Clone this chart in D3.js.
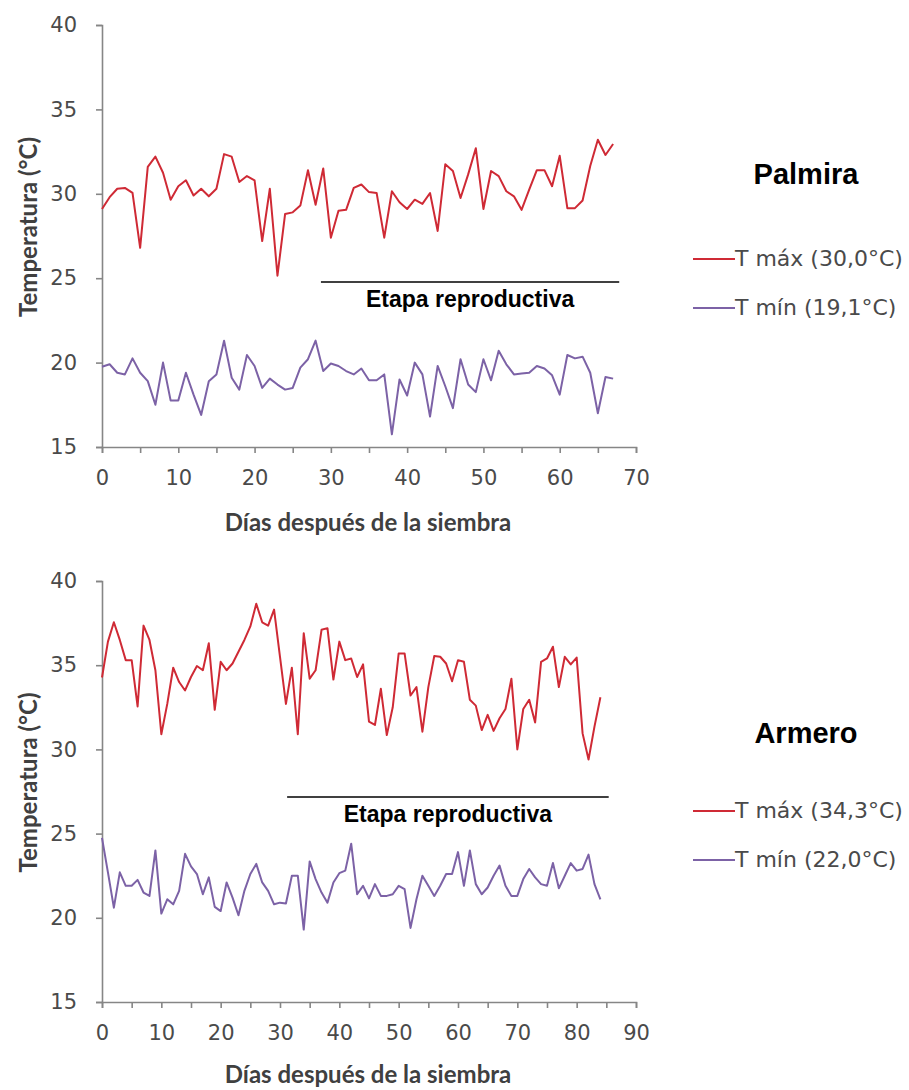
<!DOCTYPE html>
<html><head><meta charset="utf-8">
<script src="https://cdn.jsdelivr.net/npm/d3@7"></script>
<style>
html,body{margin:0;padding:0;background:#fff;}
svg{display:block;}
</style></head>
<body>
<svg id="chart" width="909" height="1090"></svg>
<script>
// ---- data ----
const palmiraTmax = [29.1, 29.8, 30.3, 30.35, 30.05, 26.8, 31.6, 32.2, 31.25, 29.65,
  30.45, 30.8, 29.9, 30.3, 29.85, 30.3, 32.35, 32.2, 30.7, 31.05,
  30.8, 27.2, 30.3, 25.15, 28.8, 28.9, 29.3, 31.4, 29.35, 31.5,
  27.4, 29.0, 29.05, 30.35, 30.55, 30.1, 30.05, 27.4, 30.15, 29.5,
  29.1, 29.65, 29.4, 30.05, 27.8, 31.75, 31.35, 29.75, 31.15, 32.7,
  29.1, 31.35, 31.05, 30.15, 29.85, 29.05, 30.25, 31.4, 31.4, 30.45,
  32.25, 29.15, 29.15, 29.6, 31.65, 33.2, 32.3, 32.95];
const palmiraTmin = [19.75, 19.9, 19.4, 19.3, 20.25, 19.4, 18.9, 17.5, 20.0, 17.75,
  17.75, 19.4, 18.1, 16.9, 18.9, 19.3, 21.3, 19.1, 18.4, 20.45,
  19.8, 18.5, 19.05, 18.7, 18.4, 18.5, 19.7, 20.2, 21.3, 19.5,
  19.95, 19.8, 19.5, 19.3, 19.65, 18.95, 18.95, 19.3, 15.75, 19.0,
  18.05, 20.0, 19.3, 16.8, 19.8, 18.6, 17.3, 20.2, 18.7, 18.25,
  20.2, 18.95, 20.7, 19.9, 19.3, 19.35, 19.4, 19.8, 19.65, 19.25,
  18.1, 20.45, 20.25, 20.35, 19.4, 17.0, 19.15, 19.05];
const armeroTmax = [34.27, 36.4, 37.55, 36.5, 35.3, 35.3, 32.55, 37.35, 36.5, 34.7,
  30.9, 32.7, 34.85, 34.0, 33.5, 34.3, 34.95, 34.7, 36.3, 32.35,
  35.2, 34.7, 35.1, 35.8, 36.5, 37.3, 38.65, 37.55, 37.35, 38.3,
  35.5, 32.7, 34.85, 30.9, 36.9, 34.2, 34.7, 37.1, 37.2, 34.15,
  36.4, 35.3, 35.4, 34.3, 35.05, 31.65, 31.45, 33.6, 30.85, 32.5,
  35.7, 35.7, 33.2, 33.7, 31.05, 33.7, 35.55, 35.5, 35.1, 34.05,
  35.3, 35.2, 32.95, 32.6, 31.15, 32.05, 31.1, 31.85, 32.4, 34.2,
  30.0, 32.4, 32.95, 31.6, 35.2, 35.4, 36.1, 33.7, 35.5, 35.05,
  35.45, 30.95, 29.4, 31.35, 33.1];
const armeroTmin = [24.75, 22.7, 20.6, 22.7, 21.9, 21.9, 22.25, 21.5, 21.3, 24.0,
  20.25, 21.1, 20.8, 21.6, 23.8, 23.05, 22.6, 21.4, 22.4, 20.65,
  20.4, 22.1, 21.2, 20.15, 21.6, 22.6, 23.2, 22.1, 21.6, 20.8,
  20.9, 20.85, 22.5, 22.5, 19.3, 23.35, 22.3, 21.5, 20.9, 22.1,
  22.65, 22.8, 24.4, 21.4, 21.9, 21.15, 22.0, 21.3, 21.3, 21.4,
  21.9, 21.7, 19.4, 21.1, 22.5, 21.9, 21.3, 21.9, 22.6, 22.6,
  23.9, 21.9, 24.0, 22.0, 21.4, 21.8, 22.5, 23.1, 21.9, 21.3,
  21.3, 22.3, 22.9, 22.4, 22.0, 21.9, 23.25, 21.75, 22.5, 23.25,
  22.8, 22.9, 23.75, 22.0, 21.1];
const yTicks = [15, 20, 25, 30, 35, 40];
const palmiraXTicks = [0, 10, 20, 30, 40, 50, 60, 70];
const armeroXTicks = [0, 10, 20, 30, 40, 50, 60, 70, 80, 90];
const sites = ["Palmira", "Armero"];
const legendMax = ["T máx (30,0°C)", "T máx (34,3°C)"];
const legendMin = ["T mín (19,1°C)", "T mín (22,0°C)"];
const stageLabel = "Etapa reproductiva";
const xTitle = "Días después de la siembra";
const yTitle = "Temperatura (°C)";

// ---- styles ----
const RED = "#cf2a35", PURPLE = "#7c62a6", AXIS = "#868686", TXT = "#4a4a4a";

const svg = d3.select("#chart");

const panels = [
  {tmax: palmiraTmax, tmin: palmiraTmin, xmax: 70, xticks: palmiraXTicks, top: 25, bottom: 447,
   stageFrom: 28.7, stageTo: 67.8, stageY: 282, site: sites[0], lmax: legendMax[0], lmin: legendMin[0],
   siteY: 184, legY1: 259, legY2: 308, xTitleY: 531},
  {tmax: armeroTmax, tmin: armeroTmin, xmax: 90, xticks: armeroXTicks, top: 581, bottom: 1002,
   stageFrom: 31.2, stageTo: 85.4, stageY: 797, site: sites[1], lmax: legendMax[1], lmin: legendMin[1],
   siteY: 743, legY1: 811, legY2: 860, xTitleY: 1083}
];

panels.forEach(p => {
  const x = d3.scaleLinear().domain([0, p.xmax]).range([102, 636]);
  const y = d3.scaleLinear().domain([15, 40]).range([p.bottom, p.top]);
  const g = svg.append("g");

  // y axis
  const ya = g.append("g").attr("transform", `translate(${x(0)},0)`)
    .call(d3.axisLeft(y).tickValues(yTicks).tickSize(6).tickPadding(19).tickFormat(d3.format("d")));
  // x axis
  const xa = g.append("g").attr("transform", `translate(0,${p.bottom})`)
    .call(d3.axisBottom(x).tickValues(d3.range(0, p.xmax + 1, 5)).tickSize(6).tickPadding(17)
      .tickFormat(d => p.xticks.includes(d) ? d : ""));
  [ya, xa].forEach(a => {
    a.select(".domain").attr("stroke", AXIS).attr("stroke-width", 1.6);
    a.selectAll(".tick line").attr("stroke", AXIS).attr("stroke-width", 1.6);
    a.selectAll(".tick text").attr("fill", TXT).style("font-family", "DejaVu Sans, Verdana, sans-serif")
      .style("font-size", "21px");
  });

  const line = d3.line().x((d, i) => x(i)).y(d => y(d));
  g.append("path").datum(p.tmax).attr("d", line).attr("fill", "none")
    .attr("stroke", RED).attr("stroke-width", 2).attr("stroke-linejoin", "round");
  g.append("path").datum(p.tmin).attr("d", line).attr("fill", "none")
    .attr("stroke", PURPLE).attr("stroke-width", 2).attr("stroke-linejoin", "round");

  // stage line and label
  g.append("line").attr("x1", x(p.stageFrom)).attr("x2", x(p.stageTo))
    .attr("y1", p.stageY).attr("y2", p.stageY).attr("stroke", "#000").attr("stroke-width", 1.3);
  g.append("text").attr("x", (x(p.stageFrom) + x(p.stageTo)) / 2).attr("y", p.stageY + 25)
    .attr("text-anchor", "middle").style("font-family", "Liberation Sans, Arial, sans-serif")
    .style("font-weight", "bold").style("font-size", "23px").attr("fill", "#000").text(stageLabel);

  // axis titles
  g.append("text").attr("x", 368).attr("y", p.xTitleY).attr("text-anchor", "middle")
    .style("font-family", "Lato, sans-serif").style("font-weight", "bold").style("font-size", "24px")
    .attr("fill", "#404040").text(xTitle);
  g.append("text").attr("transform", `translate(37,${(p.top + p.bottom) / 2 - 9}) rotate(-90)`)
    .attr("text-anchor", "middle")
    .style("font-family", "Lato, sans-serif").style("font-weight", "bold").style("font-size", "24px")
    .attr("fill", "#404040").text(yTitle);

  // site title
  g.append("text").attr("x", 806).attr("y", p.siteY).attr("text-anchor", "middle")
    .style("font-family", "Liberation Sans, Arial, sans-serif").style("font-weight", "bold")
    .style("font-size", "29px").attr("fill", "#000").text(p.site);

  // legend
  [[p.legY1, RED, p.lmax], [p.legY2, PURPLE, p.lmin]].forEach(([ly, c, t]) => {
    g.append("line").attr("x1", 693).attr("x2", 735).attr("y1", ly).attr("y2", ly)
      .attr("stroke", c).attr("stroke-width", 2);
    g.append("text").attr("x", 735).attr("y", ly + 7)
      .style("font-family", "DejaVu Sans, Verdana, sans-serif").style("font-size", "22px")
      .attr("fill", TXT).text(t);
  });
});
</script>
</body></html>
